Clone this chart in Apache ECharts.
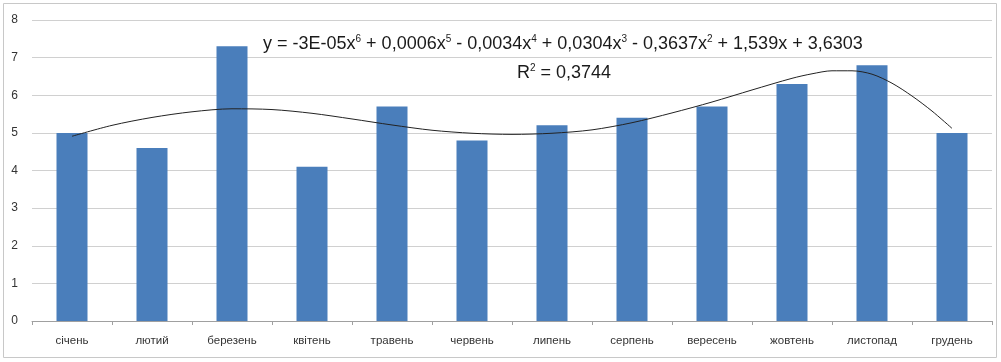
<!DOCTYPE html>
<html><head><meta charset="utf-8">
<script src="https://cdn.jsdelivr.net/npm/echarts@6/dist/echarts.min.js"></script>
<style>html,body{margin:0;padding:0;background:#fff}#c{width:1001px;height:362px}</style>
</head><body><div id="c"></div>
<script>
var categories = ['січень','лютий','березень','квітень','травень','червень','липень','серпень','вересень','жовтень','листопад','грудень'];
var values = [5.0, 4.6, 7.3, 4.1, 5.7, 4.8, 5.2, 5.4, 5.7, 6.3, 6.8, 5.0];
var trendX = [1,1.5,2,2.5,3,3.5,4,4.5,5,5.5,6,6.5,7,7.5,8,8.5,9,9.5,10,10.25,10.5,10.75,11,11.25,11.5,11.75,12];
var trendY = [4.91,5.20,5.41,5.56,5.64,5.62,5.52,5.37,5.21,5.07,4.99,4.96,4.99,5.08,5.27,5.53,5.82,6.14,6.45,6.57,6.65,6.65,6.56,6.32,5.98,5.58,5.12];
var yTicks = [0,1,2,3,4,5,6,7,8];

var chart = echarts.init(document.getElementById('c'));
var trendData = trendX.map(function(x,i){return [x, trendY[i]];});
var rich = {n:{fontSize:18,fontFamily:'Liberation Sans',fill:'#1a1a1a'},s:{fontSize:10,fontFamily:'Liberation Sans',fill:'#1a1a1a',verticalAlign:'top',padding:[0,0,10,0]}};
chart.setOption({
  animation:false,
  grid:{left:32,right:9,top:20,bottom:41},
  graphic:[
    {type:'rect',shape:{x:3.5,y:3.5,width:993,height:354},style:{fill:'none',stroke:'#c8c8c8',lineWidth:1}},
    {type:'text',left:263,top:34,style:{rich:rich,
      text:'{n|y = -3E-05x}{s|6}{n| + 0,0006x}{s|5}{n| - 0,0034x}{s|4}{n| + 0,0304x}{s|3}{n| - 0,3637x}{s|2}{n| + 1,539x + 3,6303}'
    }},
    {type:'text',left:517,top:63,style:{rich:rich,
      text:'{n|R}{s|2}{n| = 0,3744}'
    }}
  ],
  xAxis:[
    {type:'category',data:categories,
     axisLine:{lineStyle:{color:'#a0a0a0'}},
     axisTick:{show:true,length:4,lineStyle:{color:'#a0a0a0'}},
     axisLabel:{color:'#333',fontSize:11.5,fontFamily:'Liberation Sans',margin:14}},
    {type:'value',min:0.5,max:12.5,show:false}
  ],
  yAxis:{type:'value',min:0,max:8,interval:1,
    axisLine:{show:false},axisTick:{show:false},
    axisLabel:{color:'#333',fontSize:12,fontFamily:'Liberation Sans',margin:14,
      formatter:function(v){return yTicks.indexOf(v)>=0?String(v):'';}},
    splitLine:{lineStyle:{color:'#d0d0d0'}}},
  series:[
    {type:'bar',data:values,barWidth:31,itemStyle:{color:'#4a7ebb'},xAxisIndex:0},
    {type:'line',data:trendData,xAxisIndex:1,smooth:0.3,smoothConstraint:false,symbol:'none',
     lineStyle:{color:'#222',width:1}}
  ]
});
</script></body></html>
